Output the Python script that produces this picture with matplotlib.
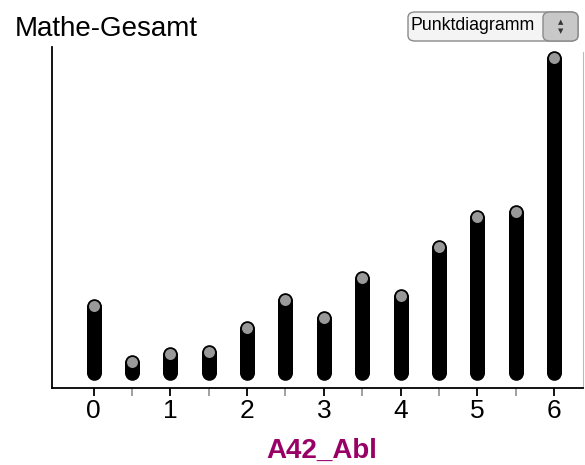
import numpy as np
import matplotlib.pyplot as plt
from matplotlib.patches import FancyBboxPatch

plt.rcParams['font.family'] = ['Liberation Sans', 'DejaVu Sans']

# A42_Abl values and how many dots are stacked at each one
abl_values = [0, 0.5, 1, 1.5, 2, 2.5, 3, 3.5, 4, 4.5, 5, 5.5, 6]
dot_counts = [68, 12, 20, 22, 46, 74, 56, 96, 78, 127, 157, 162, 316]
major_ticks = [0, 1, 2, 3, 4, 5, 6]
minor_ticks = [0.5, 1.5, 2.5, 3.5, 4.5, 5.5]

fig = plt.figure(figsize=(5.85, 4.65), dpi=100)
ax = fig.add_axes([52 / 585, 1 - 388 / 465, 531 / 585, 341 / 465])

xs, ys = [], []
for v, n in zip(abl_values, dot_counts):
    xs += [v] * n
    ys += list(range(n))
ax.scatter(xs, ys, s=85, facecolor='#999999', edgecolor='black',
           linewidth=1.3, zorder=3, clip_on=False)

ax.set_xlim(-0.545, 6.38)
ax.set_ylim(-15, 326)
ax.set_yticks([])
ax.set_xticks(major_ticks)
ax.set_xticks(minor_ticks, minor=True)
ax.tick_params(axis='x', which='major', length=6, width=1.3, color='black',
               labelsize=19, pad=2)
ax.tick_params(axis='x', which='minor', length=6, width=1.3, color='#999999')

ax.spines['top'].set_visible(False)
ax.spines['right'].set_color('#bbbbbb')
ax.spines['right'].set_bounds(-15, 321)
ax.spines['left'].set_linewidth(1.3)
ax.spines['bottom'].set_linewidth(1.3)

fig.text(322 / 585, 1 - 458 / 465, 'A42_Abl', fontsize=20, fontweight='bold',
         color='#990066', ha='center', va='baseline')
fig.text(15 / 585, 1 - 36 / 465, 'Mathe-Gesamt', fontsize=20, va='baseline')

# dropdown box in the top right
box = FancyBboxPatch((408 / 585, 1 - 41 / 465), 170 / 585, 29 / 465,
                     boxstyle='round,pad=0,rounding_size=0.012',
                     transform=fig.transFigure, facecolor='#f4f4f4',
                     edgecolor='#8a8a8a', linewidth=1)
fig.patches.append(box)
spin = FancyBboxPatch((543 / 585, 1 - 41 / 465), 35 / 585, 29 / 465,
                      boxstyle='round,pad=0,rounding_size=0.012',
                      transform=fig.transFigure, facecolor='#c8c8c8',
                      edgecolor='#8a8a8a', linewidth=1)
fig.patches.append(spin)
fig.text(411 / 585, 1 - 26 / 465, 'Punktdiagramm', fontsize=12.8, va='center')
fig.text(561 / 585, 1 - 22 / 465, '\u25b2', fontsize=5, ha='center',
         va='center', color='#333333', family='DejaVu Sans')
fig.text(561 / 585, 1 - 31 / 465, '\u25bc', fontsize=5, ha='center',
         va='center', color='#333333', family='DejaVu Sans')

fig.savefig('out.png', dpi=100)
